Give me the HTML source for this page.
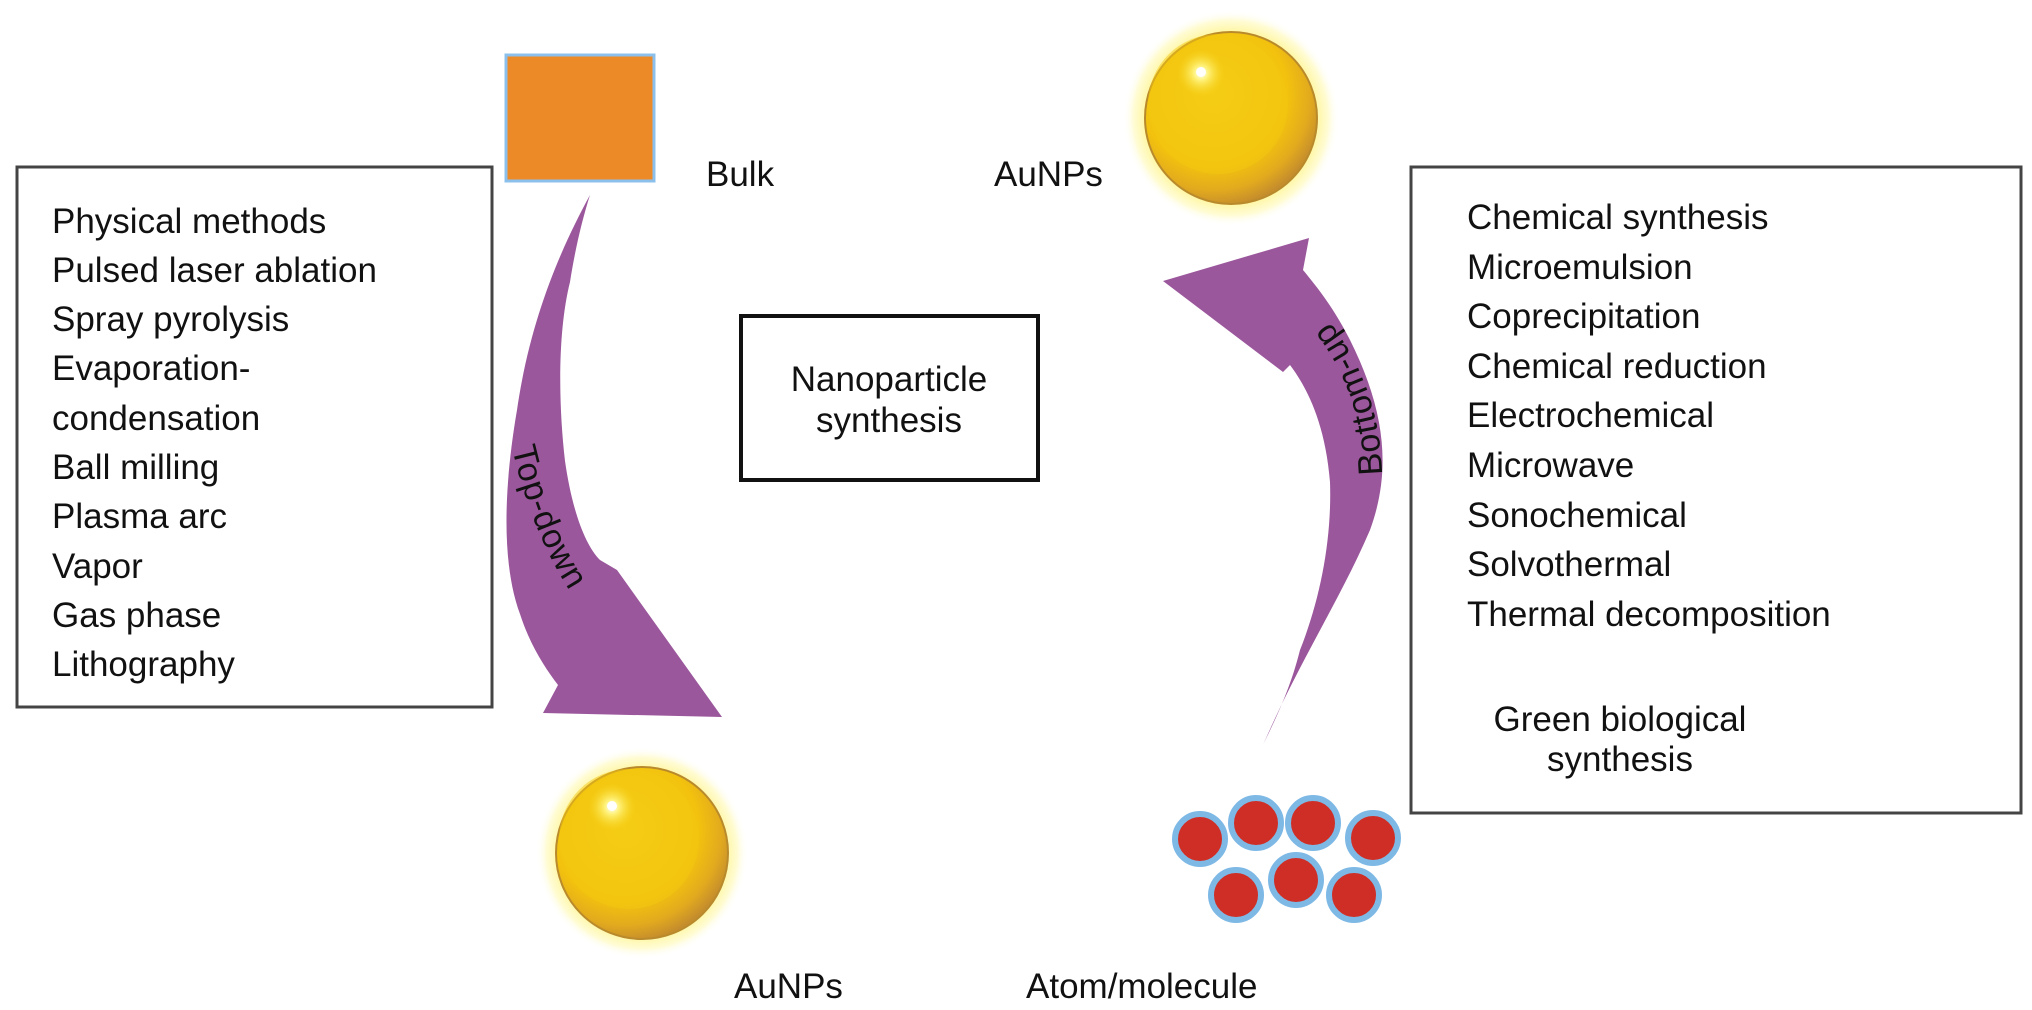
<!DOCTYPE html>
<html><head><meta charset="utf-8"><style>
html,body{margin:0;padding:0;background:#fff;}
svg{display:block;}
text{font-family:"Liberation Sans",Arial,sans-serif;fill:#111;}
</style></head><body>
<svg width="2032" height="1010" viewBox="0 0 2032 1010" xmlns="http://www.w3.org/2000/svg">
<defs>
<radialGradient id="glow" cx="50%" cy="50%" r="50%">
<stop offset="0.78" stop-color="#fff59a" stop-opacity="1"/>
<stop offset="0.9" stop-color="#fffbc8" stop-opacity="0.8"/>
<stop offset="1" stop-color="#ffffff" stop-opacity="0"/>
</radialGradient>
<radialGradient id="gold" cx="40%" cy="36%" r="66%">
<stop offset="0" stop-color="#f7d21a"/>
<stop offset="0.65" stop-color="#f2c20e"/>
<stop offset="0.85" stop-color="#e2aa1e"/>
<stop offset="1" stop-color="#c48c2c"/>
</radialGradient>
<radialGradient id="hl" cx="50%" cy="50%" r="50%">
<stop offset="0" stop-color="#ffffff"/>
<stop offset="0.3" stop-color="#fff27a"/>
<stop offset="1" stop-color="#f6d51e" stop-opacity="0"/>
</radialGradient>
</defs>

<!-- left box -->
<rect x="17" y="167" width="475" height="540" fill="none" stroke="#444" stroke-width="3"/>
<g font-size="35">
<text x="52" y="233">Physical methods</text>
<text x="52" y="282">Pulsed laser ablation</text>
<text x="52" y="331">Spray pyrolysis</text>
<text x="52" y="380">Evaporation-</text>
<text x="52" y="430">condensation</text>
<text x="52" y="479">Ball milling</text>
<text x="52" y="528">Plasma arc</text>
<text x="52" y="578">Vapor</text>
<text x="52" y="627">Gas phase</text>
<text x="52" y="676">Lithography</text>
</g>

<!-- orange square -->
<rect x="506" y="55" width="148" height="126" fill="#ec8a28" stroke="#8cc0ec" stroke-width="3"/>
<text x="706" y="186" font-size="35">Bulk</text>
<text x="994" y="186" font-size="35">AuNPs</text>

<!-- top sphere -->
<circle cx="1231" cy="118" r="108" fill="url(#glow)"/>
<circle cx="1231" cy="118" r="86" fill="url(#gold)" stroke="#b98a2c" stroke-width="2"/>
<circle cx="1218" cy="104" r="70" fill="#f4c810" opacity="0.5"/>
<circle cx="1201" cy="73" r="24" fill="url(#hl)"/>
<circle cx="1201" cy="72" r="5" fill="#fff"/>

<!-- center box -->
<rect x="741" y="316" width="297" height="164" fill="none" stroke="#111" stroke-width="4"/>
<text x="889" y="391" font-size="35" text-anchor="middle">Nanoparticle</text>
<text x="889" y="432" font-size="35" text-anchor="middle">synthesis</text>

<!-- right box -->
<rect x="1411" y="167" width="610" height="646" fill="none" stroke="#444" stroke-width="3"/>
<g font-size="35">
<text x="1467" y="229">Chemical synthesis</text>
<text x="1467" y="279">Microemulsion</text>
<text x="1467" y="328">Coprecipitation</text>
<text x="1467" y="378">Chemical reduction</text>
<text x="1467" y="427">Electrochemical</text>
<text x="1467" y="477">Microwave</text>
<text x="1467" y="527">Sonochemical</text>
<text x="1467" y="576">Solvothermal</text>
<text x="1467" y="626">Thermal decomposition</text>
<text x="1620" y="731" text-anchor="middle">Green biological</text>
<text x="1620" y="771" text-anchor="middle">synthesis</text>
</g>

<!-- top-down arrow -->
<path d="M590,195 C560,250 530,320 517,410 C505,480 500,560 520,614 C530,645 545,668 558,685 L543,713 L722,717 L617,570 L600,560 C585,545 572,510 565,461 C558,400 558,330 570,282 C575,250 582,220 590,195 Z" fill="#9b579c"/>
<path id="tdpath" d="M512,448 C530,525 560,590 612,645" fill="none"/>
<text font-size="34" letter-spacing="1"><textPath href="#tdpath">Top-down</textPath></text>

<!-- bottom-up arrow -->
<path d="M1263,745 C1300,660 1340,600 1370,530 C1392,470 1385,410 1350,340 C1335,310 1318,288 1303,270 L1309,238 L1163,281 L1283,372 L1290,365 C1305,385 1325,420 1330,482 C1332,540 1320,600 1300,650 C1290,690 1275,720 1263,745 Z" fill="#9b579c"/>
<path id="bupath" d="M1382,475 C1380,395 1350,335 1292,280" fill="none"/>
<text font-size="34" letter-spacing="1"><textPath href="#bupath">Bottom-up</textPath></text>

<!-- bottom sphere -->
<circle cx="642" cy="853" r="106" fill="url(#glow)"/>
<circle cx="642" cy="853" r="86" fill="url(#gold)" stroke="#b98a2c" stroke-width="2"/>
<circle cx="629" cy="839" r="70" fill="#f4c810" opacity="0.5"/>
<circle cx="612" cy="807" r="24" fill="url(#hl)"/>
<circle cx="612" cy="806" r="5" fill="#fff"/>

<!-- red atoms -->
<g fill="#cf2e26" stroke="#7eb9e6" stroke-width="6">
<circle cx="1200" cy="839" r="25"/>
<circle cx="1256" cy="823" r="25"/>
<circle cx="1313" cy="823" r="25"/>
<circle cx="1373" cy="838" r="25"/>
<circle cx="1236" cy="895" r="25"/>
<circle cx="1296" cy="880" r="25"/>
<circle cx="1354" cy="895" r="25"/>
</g>

<text x="734" y="998" font-size="35">AuNPs</text>
<text x="1026" y="998" font-size="35">Atom/molecule</text>
</svg>
</body></html>
